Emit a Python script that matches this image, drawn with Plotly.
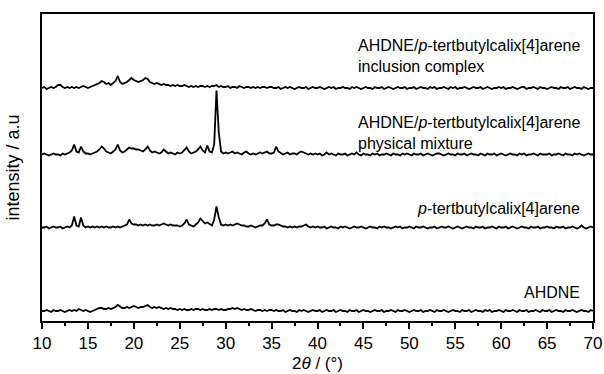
import numpy as np
import plotly.graph_objects as go

# 2-theta sampling grid (degrees), 0.25 deg step
two_theta = np.linspace(10, 70, 241)

# Intensities (a.u.), one row = 5 degrees (20 samples), final value at 70 deg
ahdne = [
    0,0,1,0,-1,1,0,0,1,0,-1,0,1,0,1,0,2,1,0,1,
    0,-1,0,1,2,3,3,2,2,3,2,3,4,6,4,3,3,4,3,4,
    5,4,3,4,4,5,6,4,3,4,3,4,3,2,3,2,3,2,2,1,
    2,1,2,1,1,2,1,2,2,1,2,1,1,2,1,2,2,1,2,1,
    1,2,2,3,2,3,2,1,2,1,1,2,1,0,1,1,0,1,0,1,
    1,0,1,0,0,1,-1,0,1,0,0,-1,1,0,1,0,-1,0,1,0,
    0,1,-1,0,1,0,0,1,-1,0,1,0,0,-1,1,0,0,1,-1,0,
    1,0,0,-1,0,1,0,0,1,-1,0,0,1,0,-1,1,0,0,1,0,
    -1,0,1,0,0,1,-1,0,0,1,0,-1,1,0,0,1,0,-1,0,1,
    0,0,-1,1,0,0,1,-1,0,1,0,0,-1,1,0,1,-1,0,0,1,
    0,-1,1,0,0,1,0,-1,1,0,0,1,-1,0,0,1,0,-1,1,0,
    0,1,-1,0,1,0,0,-1,1,0,0,1,0,-1,0,1,0,0,-1,1,
    0,
]

calixarene = [
    0,0,1,-1,0,1,0,0,1,-1,0,1,0,2,11,2,1,10,2,0,
    1,0,1,0,1,0,1,0,1,0,0,1,0,1,0,1,2,3,8,4,
    3,3,2,3,2,3,2,3,2,2,3,2,3,4,3,2,3,2,2,2,
    1,2,4,8,3,2,1,3,5,9,6,4,5,3,2,8,21,10,3,2,
    3,2,3,2,3,4,3,2,2,1,1,2,1,0,1,2,2,4,8,3,
    2,2,3,3,2,1,1,0,1,0,1,0,1,1,2,3,1,0,1,0,
    1,0,0,1,-1,0,1,0,0,-1,1,0,1,0,-1,0,1,0,0,1,
    0,-1,0,1,0,0,-1,1,0,1,0,0,-1,0,1,0,1,-1,0,0,
    1,0,-1,1,0,0,1,0,-1,0,0,1,-1,0,1,0,0,1,0,-1,
    0,1,0,-1,0,1,0,0,-1,1,0,0,1,-1,0,0,1,0,-1,1,
    0,0,1,-1,0,1,0,-1,0,1,0,0,-1,1,0,0,1,-1,0,0,
    1,0,0,-1,1,0,0,1,-1,0,0,1,0,-1,0,2,0,-1,0,1,
    0,
]

physical_mixture = [
    0,1,0,-1,0,1,0,0,-1,1,0,1,2,4,10,3,2,8,3,1,
    1,0,1,2,3,5,8,6,3,2,1,3,5,10,4,2,3,5,7,6,
    6,5,5,4,3,5,8,4,2,3,2,1,2,5,3,1,2,1,0,2,
    1,2,4,7,3,1,2,3,5,8,4,2,9,3,2,10,64,22,3,1,
    2,1,2,3,1,2,1,0,2,3,1,0,1,0,1,2,1,2,3,1,
    1,2,8,3,1,0,1,2,0,1,1,0,2,3,2,1,0,1,0,1,
    0,1,-1,0,2,0,1,0,-1,1,0,0,1,-1,0,1,0,2,0,-1,
    1,0,0,-1,1,0,1,-1,0,0,1,0,-1,1,0,0,-1,1,0,1,
    0,-1,1,0,0,1,-1,0,1,0,-1,0,1,1,0,-1,0,1,0,0,
    -1,1,0,0,1,-1,0,1,0,0,-1,1,0,-1,1,0,0,1,-1,0,
    1,0,-1,0,1,0,0,-1,1,0,1,-1,0,0,1,0,-1,1,0,0,
    0,1,-1,0,0,1,0,-1,1,0,0,-1,1,0,1,0,-1,0,1,0,
    0,
]

inclusion_complex = [
    0,1,-1,0,1,0,1,3,3,1,0,1,0,1,0,1,0,1,2,1,
    0,1,2,3,4,5,7,6,4,5,3,5,7,12,6,4,5,6,8,10,
    8,7,6,7,8,10,9,6,5,4,5,4,3,4,3,3,2,3,2,3,
    2,2,3,2,1,2,1,2,1,2,2,1,2,1,2,2,3,1,2,1,
    1,2,0,1,1,0,2,1,0,1,1,0,1,0,1,0,1,1,0,1,
    1,0,0,1,-1,0,1,0,1,0,-1,0,1,0,0,1,-1,0,1,0,
    0,1,0,-1,0,1,0,1,-1,0,0,1,0,0,-1,1,0,1,0,-1,
    0,1,0,0,-1,1,0,0,1,-1,0,1,0,-1,0,1,0,0,1,-1,
    0,0,1,-1,0,1,0,0,-1,1,0,1,-1,0,0,1,0,-1,1,0,
    1,-1,0,0,1,0,-1,0,1,0,0,1,-1,0,1,0,-1,0,0,1,
    0,1,-1,0,0,1,0,-1,0,1,1,-1,0,0,1,0,-1,1,0,0,
    -1,0,1,0,0,-1,1,0,0,1,-1,0,1,0,0,-1,1,0,-1,0,
    0,
]

series = [ahdne, calixarene, physical_mixture, inclusion_complex]
offsets = [10, 93.5, 166.5, 233]   # vertical stacking offsets (a.u.)

labels = [
    "AHDNE",
    "<i>p</i>-tertbutylcalix[4]arene",
    "AHDNE/<i>p</i>-tertbutylcalix[4]arene<br>physical mixture",
    "AHDNE/<i>p</i>-tertbutylcalix[4]arene<br>inclusion complex",
]
label_y = [0.094, 0.368, 0.611, 0.862]

for s in series:
    assert len(s) == len(two_theta), len(s)

FONT = "Liberation Sans, Arial, sans-serif"
FS = 16

fig = go.Figure()
for s, off in zip(series, offsets):
    fig.add_trace(go.Scatter(
        x=two_theta, y=np.array(s, dtype=float) + off, mode="lines",
        line=dict(color="black", width=1.8), hoverinfo="skip", showlegend=False))

for lab, yy in zip(labels, label_y):
    fig.add_annotation(x=68.8, xref="x", y=yy, yref="paper", text=lab,
                       showarrow=False, xanchor="right", yanchor="middle",
                       align="left", font=dict(size=FS, color="black", family=FONT))

fig.update_layout(
    width=604, height=374,
    margin=dict(l=42, r=11, t=14, b=53),
    paper_bgcolor="white", plot_bgcolor="white",
    font=dict(family=FONT, size=FS, color="black"),
    xaxis=dict(range=[10, 70], tickmode="linear", tick0=10, dtick=5,
               ticks="outside", ticklen=6, tickwidth=1.5, tickcolor="black",
               minor=dict(dtick=2.5, ticks="outside", ticklen=3, tickwidth=1.5, tickcolor="black"),
               showline=True, linewidth=1.5, linecolor="black", mirror=True,
               showgrid=False, zeroline=False, automargin=False,
               tickfont=dict(size=17, family=FONT),
               title=dict(text="2<i>θ</i> / (°)", standoff=5, font=dict(size=17, family=FONT))),
    yaxis=dict(range=[0, 307], showticklabels=False, ticks="",
               showline=True, linewidth=1.5, linecolor="black", mirror=True,
               showgrid=False, zeroline=False, automargin=False,
               title=dict(text="intensity / a.u", standoff=16, font=dict(size=18, family=FONT))),
)

fig.write_html("out.html")
